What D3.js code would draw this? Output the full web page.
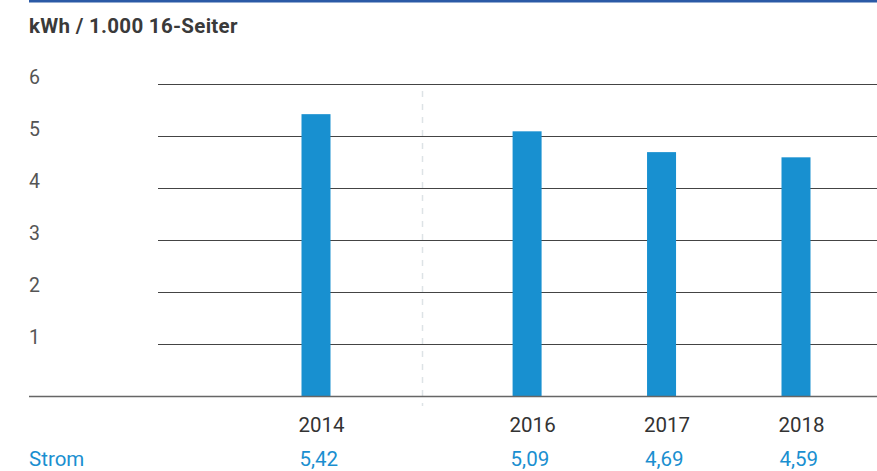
<!DOCTYPE html>
<html>
<head>
<meta charset="utf-8">
<script src="https://cdn.jsdelivr.net/npm/d3@7"></script>
<style>
  html, body { margin: 0; padding: 0; background: #fff; }
  svg { display: block; font-family: Roboto, "Noto Sans", sans-serif; }
</style>
</head>
<body>
<svg id="chart" width="877" height="471"></svg>
<script>
// Stromverbrauch je 1.000 16-Seiter
const years = ["2014", "2016", "2017", "2018"];
const strom = [5.42, 5.09, 4.69, 4.59];
const yTicks = [1, 2, 3, 4, 5, 6];
const unitLabel = "kWh / 1.000 16-Seiter";
const seriesLabel = "Strom";

const W = 877, H = 471;
const svg = d3.select("#chart");

const de = d3.formatLocale({ decimal: ",", thousands: ".", grouping: [3], currency: ["", " €"] });
const fmt = de.format(".2f");

// slot index per year; the missing year 2015 is shown as a narrower break
const breakSlots = 0.57;
const slot = years.map((d, i) => i === 0 ? 0 : i + breakSlots);
const x = d3.scaleLinear().domain([0, slot[slot.length - 1]]).range([316, 796]);
const y = d3.scaleLinear().domain([0, 6]).range([396, 84]);
const barW = 29;

// top rule
svg.append("rect").attr("x", 29).attr("y", 0).attr("width", W - 29).attr("height", 2.5)
  .attr("fill", "#2b5aa6");

// unit title
svg.append("text").attr("x", 29).attr("y", 33)
  .attr("font-size", 20.5).attr("font-weight", 700).attr("fill", "#3a3a3a")
  .attr("letter-spacing", 0.3)
  .text(unitLabel);

// horizontal gridlines with labels sitting on them
const grid = svg.append("g");
grid.selectAll("line").data(yTicks).join("line")
  .attr("x1", 158).attr("x2", W)
  .attr("y1", d => Math.round(y(d)) + 0.5).attr("y2", d => Math.round(y(d)) + 0.5)
  .attr("stroke", "#444").attr("stroke-width", 1);
grid.selectAll("text").data(yTicks).join("text")
  .attr("x", 29).attr("y", d => y(d))
  .attr("font-size", 19.5).attr("fill", "#555")
  .text(d => d);

// dashed break between 2014 and 2016
const xBreak = x((slot[0] + slot[1]) / 2);
svg.append("line")
  .attr("x1", Math.round(xBreak) + 0.5).attr("x2", Math.round(xBreak) + 0.5)
  .attr("y1", 91).attr("y2", 406)
  .attr("stroke", "#dde3e6").attr("stroke-width", 1.5).attr("stroke-dasharray", "6,7");

// bars
svg.append("g").selectAll("rect").data(strom).join("rect")
  .attr("x", (d, i) => x(slot[i]) - barW / 2)
  .attr("y", d => y(d))
  .attr("width", barW)
  .attr("height", d => y(0) - y(d))
  .attr("fill", "#1890d0");

// baseline
svg.append("line").attr("x1", 29).attr("x2", W)
  .attr("y1", y(0) + 0.5).attr("y2", y(0) + 0.5)
  .attr("stroke", "#666").attr("stroke-width", 1.5);

// year labels, left-aligned with their bars
svg.append("g").selectAll("text").data(years).join("text")
  .attr("x", (d, i) => x(slot[i]) - barW / 2 - 3).attr("y", 432)
  .attr("font-size", 20.5).attr("fill", "#333")
  .text(d => d);

// value row
svg.append("text").attr("x", 29).attr("y", 466)
  .attr("font-size", 20.5).attr("fill", "#1a8fd0").text(seriesLabel);
svg.append("g").selectAll("text").data(strom).join("text")
  .attr("x", (d, i) => x(slot[i]) - barW / 2 - 2).attr("y", 466)
  .attr("font-size", 20.5).attr("fill", "#1a8fd0")
  .text(d => fmt(d));
</script>
</body>
</html>
